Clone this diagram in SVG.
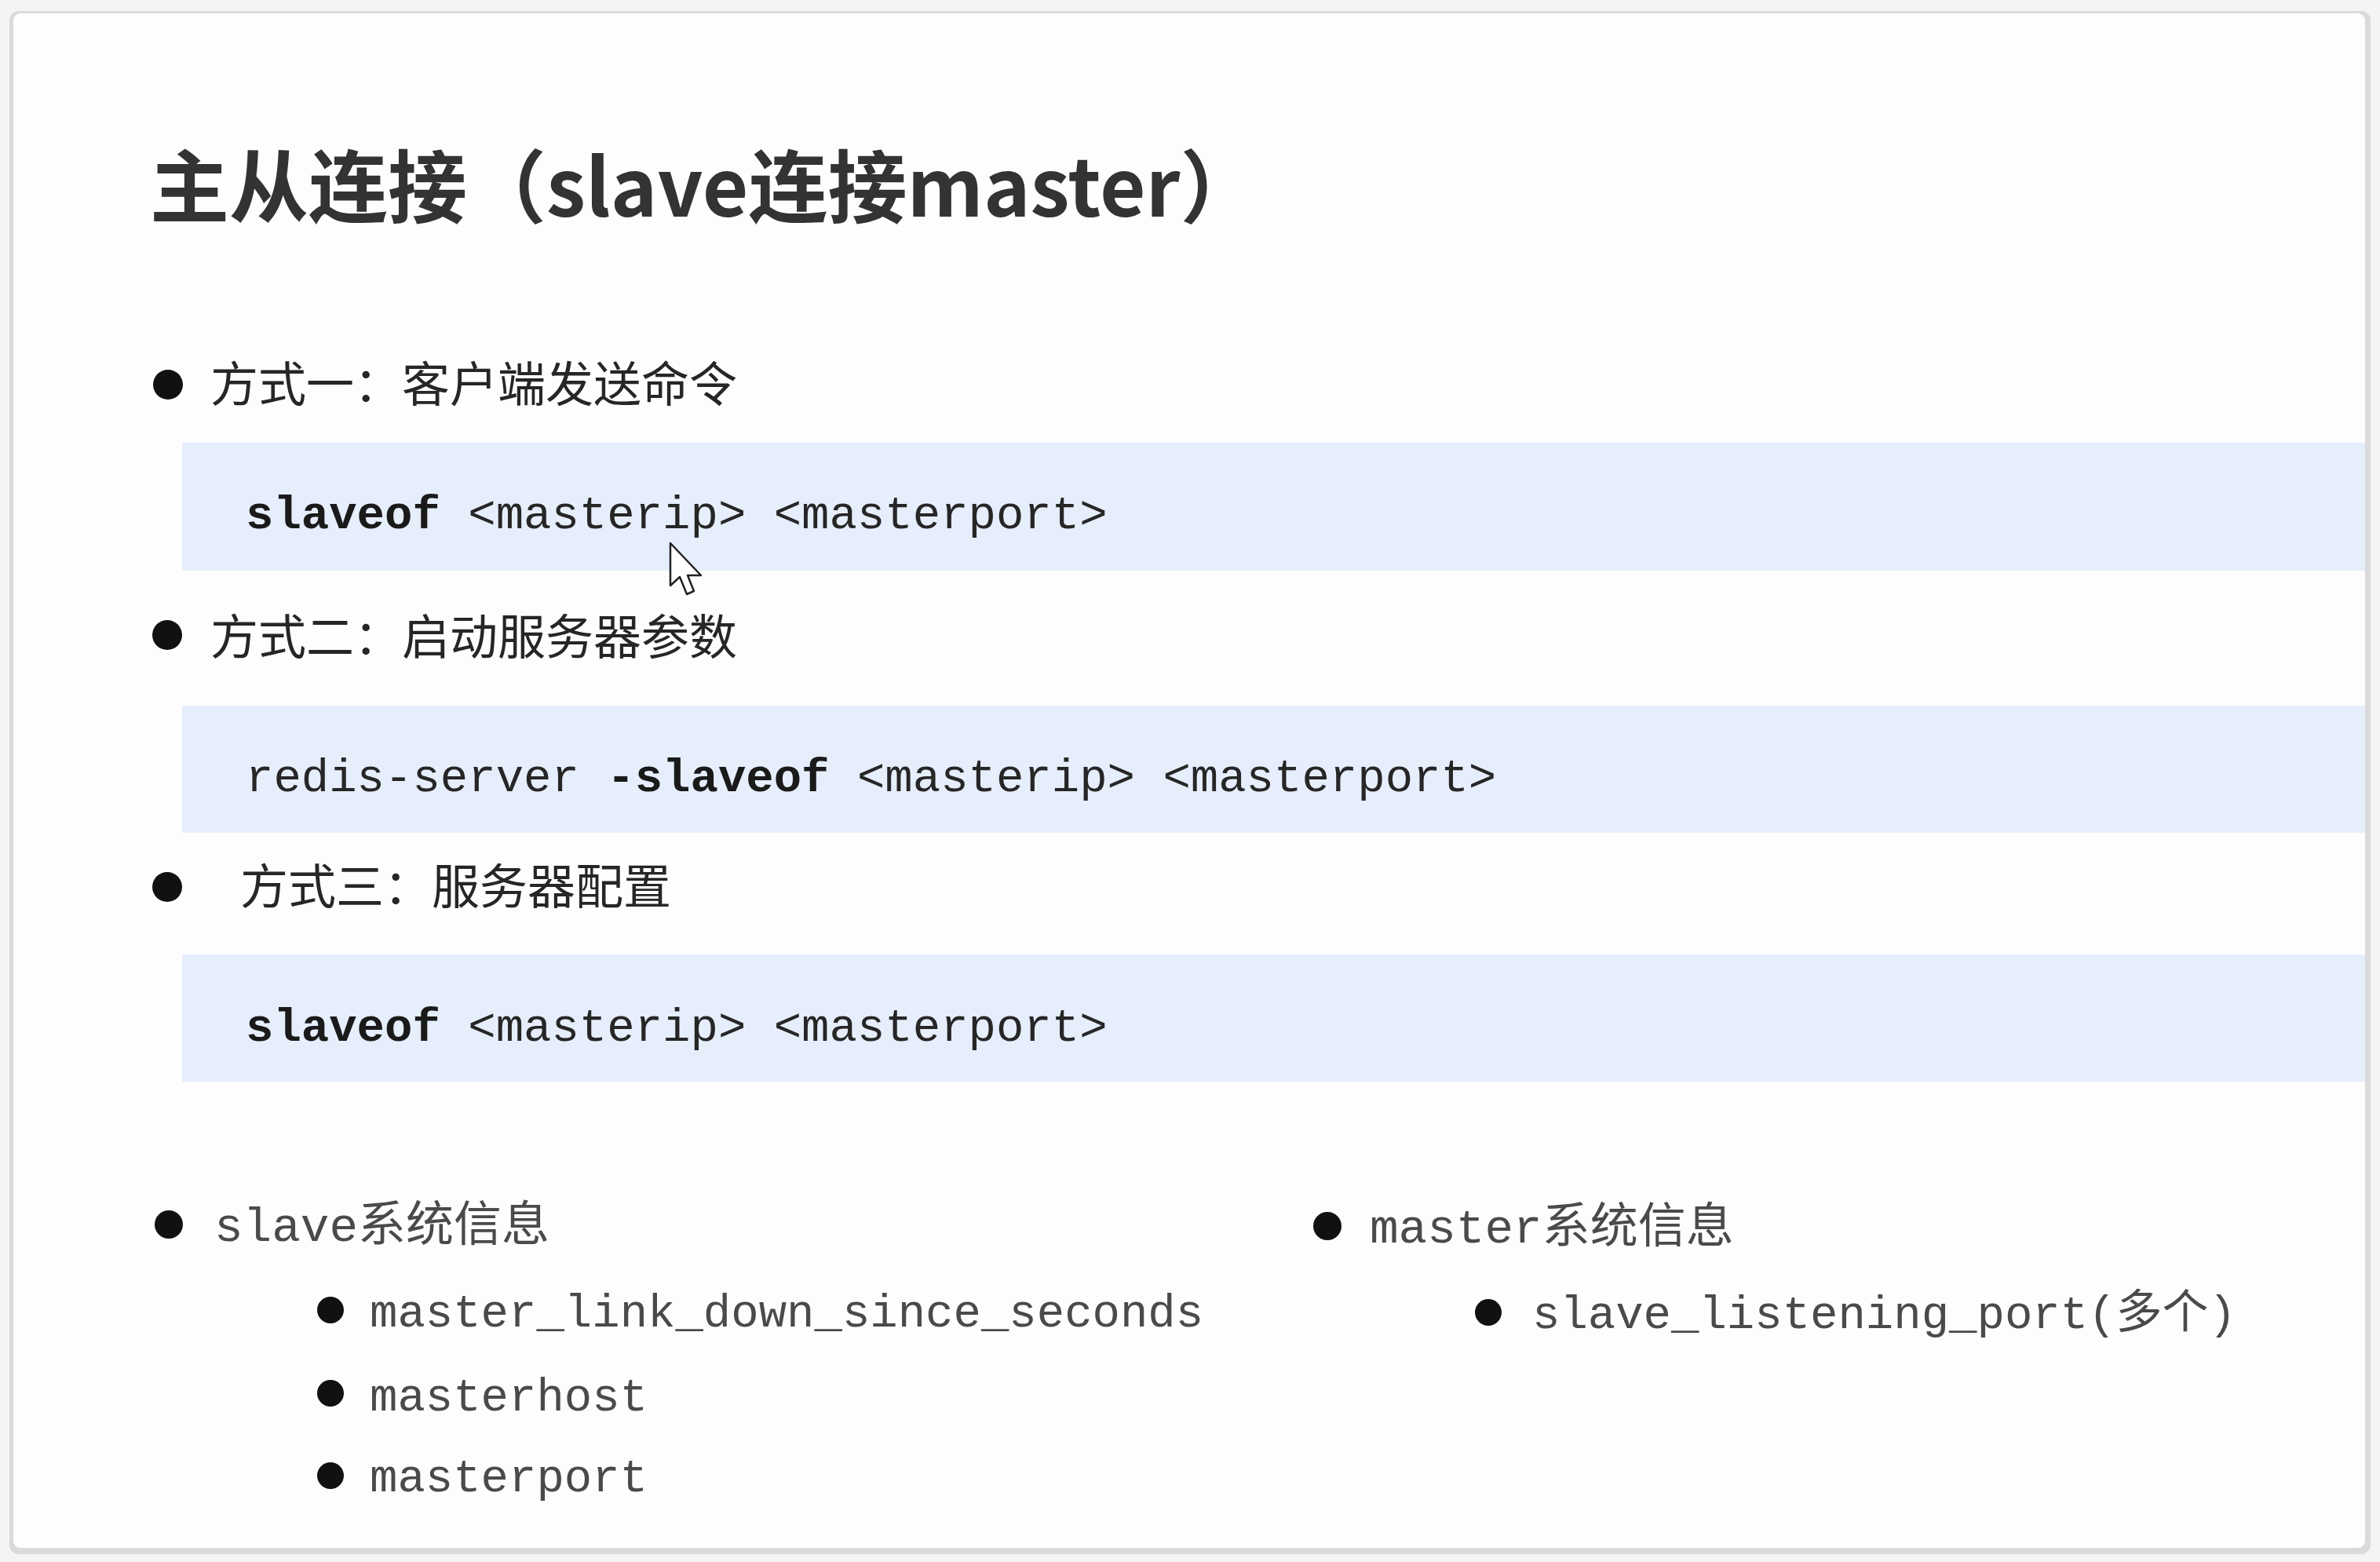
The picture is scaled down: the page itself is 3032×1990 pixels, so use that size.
<svg xmlns="http://www.w3.org/2000/svg" width="3032" height="1990" viewBox="0 0 3032 1990">
<style>
.title{font-family:"Noto Sans CJK SC","Noto Sans",sans-serif;font-weight:700;font-size:101px;fill:#333333}
.h1{font-family:"Noto Sans CJK SC","Noto Sans",sans-serif;font-size:61px;fill:#262626}
.code{font-family:"Liberation Mono","Noto Sans CJK SC",monospace;font-size:59px;fill:#262626}
.b{font-weight:700;fill:#1a1a1a}
.box{fill:#e6eefc}
.dot{fill:#111111}
.info{font-family:"Liberation Mono","Noto Sans CJK SC",monospace;font-size:61px;fill:#4a4a4a}
.sub{font-family:"Liberation Mono","Noto Sans CJK SC",monospace;font-size:59px;fill:#4a4a4a}
</style>
<rect x="0" y="0" width="3032" height="1990" fill="#f4f4f4"/>
<g id="card">
<rect x="12" y="14" width="3008" height="1966" rx="12" fill="#dadada"/>
<rect x="17" y="17" width="2996" height="1955" rx="9" fill="#fdfdfd"/>
</g>
<g id="title">
<text class="title" x="191" y="276">主从连接（slave连接master）</text>
</g>
<g id="method1">
<circle class="dot" cx="214" cy="490" r="19"/>
<text class="h1" x="268" y="512">方式一：客户端发送命令</text>
<rect class="box" x="232" y="564" width="2781" height="163"/>
<text class="code" x="313" y="673"><tspan class="b">slaveof</tspan> &lt;masterip&gt; &lt;masterport&gt;</text>
</g>
<g id="method2">
<circle class="dot" cx="213" cy="809" r="19"/>
<text class="h1" x="268" y="834">方式二：启动服务器参数</text>
<rect class="box" x="232" y="899" width="2781" height="162"/>
<text class="code" x="313" y="1008">redis-server <tspan class="b">-slaveof</tspan> &lt;masterip&gt; &lt;masterport&gt;</text>
</g>
<g id="method3">
<circle class="dot" cx="213" cy="1130" r="19"/>
<text class="h1" x="306" y="1152">方式三：服务器配置</text>
<rect class="box" x="232" y="1216" width="2781" height="162"/>
<text class="code" x="313" y="1326"><tspan class="b">slaveof</tspan> &lt;masterip&gt; &lt;masterport&gt;</text>
</g>
<g id="slave-info">
<circle class="dot" cx="215" cy="1560" r="18"/>
<text class="info" x="273" y="1581">slave系统信息</text>
<circle class="dot" cx="421" cy="1669" r="17"/>
<text class="sub" x="471" y="1690">master_link_down_since_seconds</text>
<circle class="dot" cx="421" cy="1775" r="17"/>
<text class="sub" x="471" y="1797">masterhost</text>
<circle class="dot" cx="421" cy="1880" r="17"/>
<text class="sub" x="471" y="1900">masterport</text>
</g>
<g id="master-info">
<circle class="dot" cx="1691" cy="1562" r="18"/>
<text class="info" x="1745" y="1583">master系统信息</text>
<circle class="dot" cx="1896" cy="1672" r="17"/>
<text class="sub" x="1952" y="1692">slave_listening_port(多个)</text>
</g>
<g id="cursor">
<path d="M854,692 L854,746 L866,735 L875,757 L884,753 L876,733 L893,733 Z" fill="#ffffff" stroke="#222222" stroke-width="2.5" stroke-linejoin="round"/>
</g>
</svg>
